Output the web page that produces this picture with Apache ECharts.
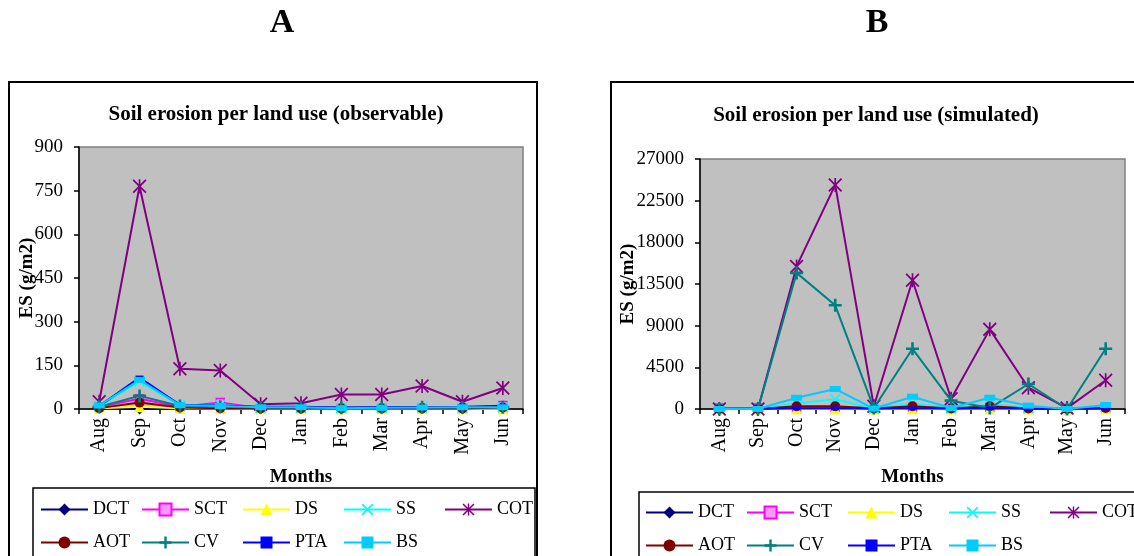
<!DOCTYPE html>
<html>
<head>
<meta charset="utf-8">
<script src="https://cdn.jsdelivr.net/npm/echarts@6/dist/echarts.min.js"></script>
<style>
html,body{margin:0;padding:0;background:#fff;}
#c{width:1134px;height:556px;}
</style>
</head>
<body>
<div id="c"></div>
<script>
// ---------- data ----------
const months = ['Aug','Sep','Oct','Nov','Dec','Jan','Feb','Mar','Apr','May','Jun'];
const landUses = ['DCT','SCT','DS','SS','COT','AOT','CV','PTA','BS'];
const ticksA = [0,150,300,450,600,750,900];
const ticksB = [0,4500,9000,13500,18000,22500,27000];

// A: observable
const obsDCT = [2, 0, 2, 2, 1, 1, 1, 1, 1, 1, 1];
const obsSCT = [8, 35, 8, 22, 3, 3, 3, 3, 4, 4, 12];
const obsDS  = [3, 8, 3, 2, 1, 1, 1, 1, 1, 1, 1];
const obsSS  = [10, 95, 12, 15, 4, 4, 3, 4, 5, 4, 6];
const obsCOT = [25, 765, 138, 132, 16, 20, 50, 50, 79, 25, 72];
const obsAOT = [3, 22, 5, 3, 2, 2, 2, 2, 2, 2, 5];
const obsCV  = [8, 45, 10, 8, 5, 5, 4, 6, 6, 5, 6];
const obsPTA = [10, 108, 14, 12, 8, 8, 5, 6, 7, 8, 10];
const obsBS  = [12, 100, 13, 10, 6, 6, 3, 4, 5, 6, 6];

// B: simulated
const simDCT = [0, 0, 50, 50, 20, 50, 20, 50, 20, 0, 50];
const simSCT = [100, 100, 100, 150, 100, 150, 100, 150, 50, 50, 100];
const simDS  = [0, 0, 30, 30, 10, 30, 10, 30, 10, 0, 20];
const simSS  = [0, 0, 600, 1050, 50, 600, 50, 500, 100, 0, 200];
const simCOT = [0, 0, 15400, 24200, 300, 13900, 1100, 8600, 2300, 100, 3100];
const simAOT = [0, 0, 300, 300, 50, 300, 50, 300, 50, 0, 100];
const simCV  = [0, 0, 14700, 11200, 100, 6500, 900, 100, 2700, 0, 6500];
const simPTA = [0, 0, 80, 80, 30, 80, 30, 80, 30, 0, 60];
const simBS  = [0, 0, 1220, 2160, 50, 1330, 100, 1220, 360, 0, 430];

const obsData = [obsDCT, obsSCT, obsDS, obsSS, obsCOT, obsAOT, obsCV, obsPTA, obsBS];
const simData = [simDCT, simSCT, simDS, simSS, simCOT, simAOT, simCV, simPTA, simBS];

// ---------- styles ----------
const FONT = '"Liberation Serif","Times New Roman",serif';
const PLUS = 'path://M4,0H6V4H10V6H6V10H4V6H0V4H4Z';
const XMARK = 'path://M0,1.1L1.1,0L5,3.9L8.9,0L10,1.1L6.1,5L10,8.9L8.9,10L5,6.1L1.1,10L0,8.9L3.9,5Z';
const AST = 'path://M4.4,0H5.6V10H4.4Z M0,0.9L0.9,0L10,9.1L9.1,10Z M9.1,0L10,0.9L0.9,10L0,9.1Z';
const styles = {
  DCT: {color:'#000080', symbol:'diamond', size:11},
  SCT: {color:'#ff00ff', symbol:'rect', size:8, fill:'#ff99ff'},
  DS:  {color:'#ffff00', symbol:'triangle', size:11},
  SS:  {color:'#00ffff', symbol:XMARK, size:11},
  COT: {color:'#800080', symbol:AST, size:14},
  AOT: {color:'#800000', symbol:'circle', size:10},
  CV:  {color:'#008080', symbol:PLUS, size:13},
  PTA: {color:'#0000ff', symbol:'rect', size:[8,4]},
  BS:  {color:'#00ccff', symbol:'rect', size:[11,6]}
};

function makeSeries(idx, dataArr){
  return landUses.map((n,i)=>{
    const s = styles[n];
    return {
      name:n, type:'line', xAxisIndex:idx, yAxisIndex:idx,
      data:dataArr[i], symbol:s.symbol, symbolSize:s.size, showSymbol:true, showAllSymbol:true,
      lineStyle:{color:s.color, width:2},
      itemStyle:{color:s.fill||s.color, borderColor:s.color, borderWidth:s.fill?1.5:0},
      emphasis:{disabled:true}, z: 2+i
    };
  });
}

function xAxis(grid){
  return {
    type:'category', gridIndex:grid, data:months, boundaryGap:true,
    name:'Months', nameLocation:'middle', nameGap:59, nameMoveOverlap:false,
    nameTextStyle:{fontFamily:FONT, fontSize:19, fontWeight:'bold', color:'#000'},
    axisLine:{lineStyle:{color:'#000', width:1.5}},
    axisTick:{show:true, interval:0, length:5, lineStyle:{color:'#000', width:1.5}},
    axisLabel:{rotate:90, interval:0, margin:9, fontFamily:FONT, fontSize:20, color:'#000'},
    splitLine:{show:false}
  };
}
function yAxis(grid, ticks, gap){
  return {
    type:'value', gridIndex:grid, min:ticks[0], max:ticks[ticks.length-1], interval:ticks[1]-ticks[0],
    name:'ES (g/m2)', nameLocation:'middle', nameRotate:90, nameGap:gap, nameMoveOverlap:false,
    nameTextStyle:{fontFamily:FONT, fontSize:19, fontWeight:'bold', color:'#000'},
    axisLine:{show:true, lineStyle:{color:'#000', width:1.5}},
    axisTick:{show:true, length:5, lineStyle:{color:'#000', width:1.5}},
    axisLabel:{margin:16, fontFamily:FONT, fontSize:19, color:'#000', formatter:v=>String(v)},
    splitLine:{show:false}
  };
}
function legend(left, top){
  return {
    left:left, top:top, width:505, orient:'horizontal', padding:0,
    itemWidth:47, itemHeight:15, itemGap:0, selectedMode:false,
    textStyle:{fontFamily:FONT, fontSize:18, color:'#000', width:48, lineHeight:33},
    data:landUses
  };
}

const chart = echarts.init(document.getElementById('c'), null, {renderer:'canvas'});
chart.setOption({
  animation:false,
  backgroundColor:'#fff',
  grid:[
    {left:79, top:147, width:444, height:262, show:true, backgroundColor:'#c0c0c0', borderColor:'#808080', borderWidth:1.5},
    {left:700, top:159, width:425, height:250, show:true, backgroundColor:'#c0c0c0', borderColor:'#808080', borderWidth:1.5}
  ],
  xAxis:[xAxis(0), xAxis(1)],
  yAxis:[yAxis(0, ticksA, 42), yAxis(1, ticksB, 62)],
  legend:[legend(40, 493), legend(645, 496)],
  series:[...makeSeries(0, obsData), ...makeSeries(1, simData)],
  graphic:[
    {type:'rect', shape:{x:9, y:82, width:528, height:520}, style:{fill:'none', stroke:'#000', lineWidth:2}, silent:true},
    {type:'rect', shape:{x:611, y:82, width:528, height:520}, style:{fill:'none', stroke:'#000', lineWidth:2}, silent:true},
    {type:'rect', shape:{x:33, y:488, width:502, height:100}, style:{fill:'none', stroke:'#000', lineWidth:1.5}, silent:true},
    {type:'rect', shape:{x:639, y:492, width:520, height:100}, style:{fill:'none', stroke:'#000', lineWidth:1.5}, silent:true},
    {type:'text', x:282, y:23, style:{text:'A', font:'bold 34px '+FONT, fill:'#000', textAlign:'center', textVerticalAlign:'middle'}},
    {type:'text', x:877, y:23, style:{text:'B', font:'bold 34px '+FONT, fill:'#000', textAlign:'center', textVerticalAlign:'middle'}},
    {type:'text', x:276, y:115, style:{text:'Soil erosion per land use (observable)', font:'bold 21px '+FONT, fill:'#000', textAlign:'center', textVerticalAlign:'middle'}},
    {type:'text', x:876, y:116, style:{text:'Soil erosion per land use (simulated)', font:'bold 21px '+FONT, fill:'#000', textAlign:'center', textVerticalAlign:'middle'}}
  ]
});
</script>
</body>
</html>
